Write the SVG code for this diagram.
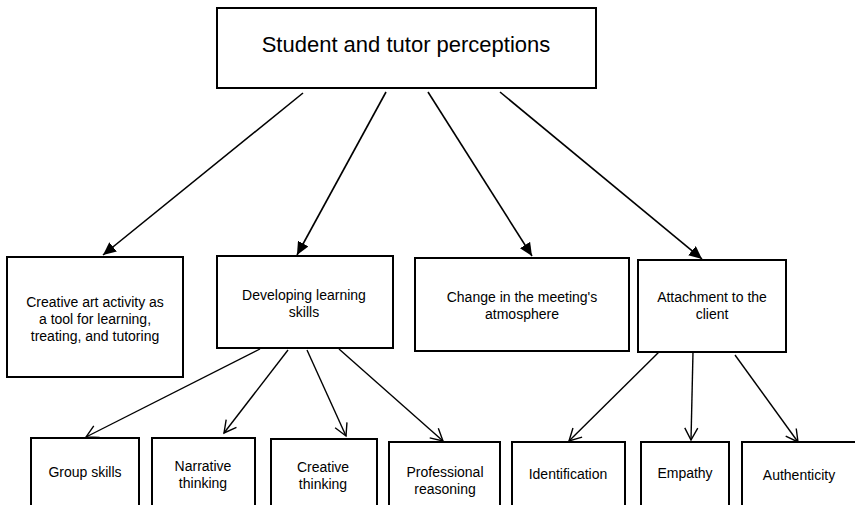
<svg xmlns="http://www.w3.org/2000/svg" width="855" height="505" viewBox="0 0 855 505">
<style>
.box{fill:#fff;stroke:#000;stroke-width:2}
.t{font-family:"Liberation Sans",Arial,sans-serif;font-size:14px;fill:#000;text-anchor:middle}
.title{font-family:"Liberation Sans",Arial,sans-serif;font-size:22px;fill:#000;text-anchor:middle}
.c1{stroke:#000;stroke-width:1.6;fill:none;marker-end:url(#af)}
.c2{stroke:#000;stroke-width:1.4;fill:none;marker-end:url(#ao)}
</style>
<defs>
<marker id="af" markerUnits="userSpaceOnUse" markerWidth="14" markerHeight="12" refX="13" refY="6" orient="auto" viewBox="0 0 14 12">
<path d="M0,0 L13,6 L0,12 z" fill="#000"/>
</marker>
<marker id="ao" markerUnits="userSpaceOnUse" markerWidth="16" markerHeight="16" refX="13" refY="8" orient="auto" viewBox="0 0 16 16">
<path d="M1,1.5 L13,8 L1,14.5" fill="none" stroke="#000" stroke-width="1.4"/>
</marker>
</defs>
<rect width="855" height="505" fill="#fff"/>
<g id="connectors">
<line class="c1" x1="303" y1="93" x2="103" y2="255"/>
<line class="c1" x1="386" y1="92" x2="297" y2="255"/>
<line class="c1" x1="428" y1="92" x2="532" y2="256"/>
<line class="c1" x1="500" y1="92" x2="702" y2="259"/>
<line class="c2" x1="260" y1="349" x2="86" y2="437"/>
<line class="c2" x1="288" y1="350" x2="224" y2="433"/>
<line class="c2" x1="307" y1="350" x2="346" y2="436"/>
<line class="c2" x1="339" y1="349" x2="443" y2="441"/>
<line class="c2" x1="661" y1="350" x2="569" y2="441"/>
<line class="c2" x1="693" y1="352" x2="691" y2="440"/>
<line class="c2" x1="735" y1="355" x2="798" y2="442"/>
</g>
<g id="root">
<rect class="box" x="217" y="8" width="379" height="80"/>
<text class="title" x="406" y="52">Student and tutor perceptions</text>
</g>
<g id="creative-art">
<rect class="box" x="7" y="257" width="176" height="120"/>
<text class="t" x="95" y="307">Creative art activity as</text>
<text class="t" x="95" y="324">a tool for learning,</text>
<text class="t" x="95" y="341">treating, and tutoring</text>
</g>
<g id="developing">
<rect class="box" x="217" y="256" width="176" height="92"/>
<text class="t" x="304" y="300">Developing learning</text>
<text class="t" x="304" y="317">skills</text>
</g>
<g id="change">
<rect class="box" x="415" y="258" width="214" height="93"/>
<text class="t" x="522" y="302">Change in the meeting's</text>
<text class="t" x="522" y="319">atmosphere</text>
</g>
<g id="attachment">
<rect class="box" x="638" y="260" width="148" height="92"/>
<text class="t" x="712" y="302">Attachment to the</text>
<text class="t" x="712" y="319">client</text>
</g>
<g id="group-skills">
<rect class="box" x="31" y="438" width="108" height="75"/>
<text class="t" x="85" y="477">Group skills</text>
</g>
<g id="narrative">
<rect class="box" x="152" y="438" width="103" height="75"/>
<text class="t" x="203" y="471">Narrative</text>
<text class="t" x="203" y="488">thinking</text>
</g>
<g id="creative-thinking">
<rect class="box" x="271" y="439" width="106" height="75"/>
<text class="t" x="323" y="472">Creative</text>
<text class="t" x="323" y="489">thinking</text>
</g>
<g id="professional">
<rect class="box" x="389" y="442" width="111" height="75"/>
<text class="t" x="445" y="477">Professional</text>
<text class="t" x="445" y="494">reasoning</text>
</g>
<g id="identification">
<rect class="box" x="512" y="442" width="113" height="75"/>
<text class="t" x="568" y="479">Identification</text>
</g>
<g id="empathy">
<rect class="box" x="641" y="442" width="88" height="75"/>
<text class="t" x="685" y="478">Empathy</text>
</g>
<g id="authenticity">
<rect class="box" x="742" y="442" width="120" height="75"/>
<text class="t" x="799" y="480">Authenticity</text>
</g>
</svg>
